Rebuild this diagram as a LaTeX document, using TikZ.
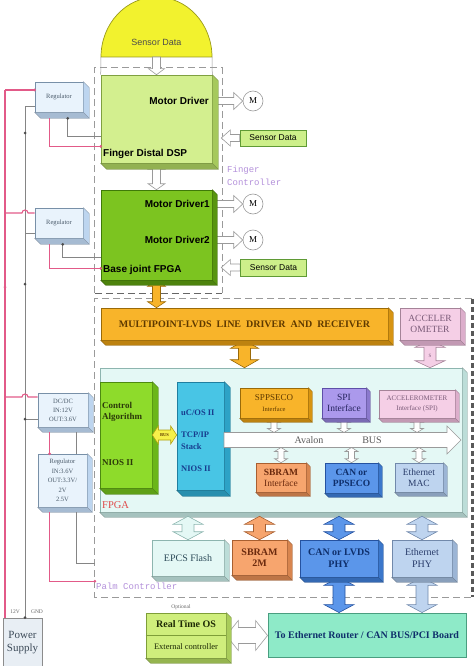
\documentclass[tikz,border=0pt]{standalone}
\usepackage{fontspec}
\setmainfont{Liberation Serif}
\setsansfont{Liberation Sans}
\setmonofont{Liberation Mono}
\usetikzlibrary{calc}
\pgfdeclarelayer{back}
\pgfdeclarelayer{bg}
\pgfsetlayers{back,bg,main}

\definecolor{cDsp}{HTML}{D3EF8F}\definecolor{cDspS}{HTML}{A6C95C}\definecolor{cDspB}{HTML}{7FA040}
\definecolor{cJnt}{HTML}{7CC420}\definecolor{cJntS}{HTML}{58950F}\definecolor{cJntB}{HTML}{3F7A08}
\definecolor{cOr}{HTML}{F8B42A}\definecolor{cOrS}{HTML}{D79412}\definecolor{cOrB}{HTML}{9A6A08}
\definecolor{cPk}{HTML}{F5CFE6}\definecolor{cPkS}{HTML}{DCAECB}\definecolor{cPkB}{HTML}{A58398}
\definecolor{cFp}{HTML}{E4F8F5}\definecolor{cFpS}{HTML}{BCDDD8}\definecolor{cFpB}{HTML}{8DB5AF}
\definecolor{cCt}{HTML}{8EDB2B}\definecolor{cCtS}{HTML}{6BB61A}\definecolor{cCtB}{HTML}{4D8A10}
\definecolor{cUc}{HTML}{48C5E5}\definecolor{cUcS}{HTML}{2DA2C6}\definecolor{cUcB}{HTML}{1F7FA0}
\definecolor{cSp}{HTML}{AB99EC}\definecolor{cSpS}{HTML}{8B79CD}\definecolor{cSpB}{HTML}{5E4FA8}
\definecolor{cSb}{HTML}{F7A56E}\definecolor{cSbS}{HTML}{D8854F}\definecolor{cSbB}{HTML}{A85F30}
\definecolor{cCn}{HTML}{5B96EA}\definecolor{cCnS}{HTML}{3B77CB}\definecolor{cCnB}{HTML}{2552A0}
\definecolor{cEt}{HTML}{BED4EF}\definecolor{cEtS}{HTML}{9CB5D5}\definecolor{cEtB}{HTML}{7189AB}
\definecolor{cRt}{HTML}{CFEE7C}\definecolor{cRtS}{HTML}{A9CC5A}\definecolor{cRtB}{HTML}{7E9E38}
\definecolor{cRo}{HTML}{8EEAC8}\definecolor{cRoB}{HTML}{4A9E80}
\definecolor{cRg}{HTML}{E9F3FC}\definecolor{cRgS}{HTML}{BDD5EF}\definecolor{cRgB}{HTML}{7890A8}
\definecolor{cPw}{HTML}{E8EEF4}
\definecolor{cYl}{HTML}{F2F22E}\definecolor{cYlB}{HTML}{9A9A1A}
\definecolor{cSd}{HTML}{CDEF8A}\definecolor{cSdB}{HTML}{5F9A35}
\definecolor{cPkLine}{HTML}{E25A88}\definecolor{cGrLine}{HTML}{858585}
\definecolor{cLilac}{HTML}{B390DA}\definecolor{cRed}{HTML}{E04A4A}
\definecolor{cHol}{HTML}{9A9A9A}\definecolor{cYa}{HTML}{F6F04A}\definecolor{cYaB}{HTML}{B0A010}
\definecolor{tCt}{HTML}{2C3A0A}\definecolor{tUc}{HTML}{173C8E}\definecolor{tOr}{HTML}{5F3A00}
\definecolor{tSp}{HTML}{26245E}\definecolor{tPk}{HTML}{7A5A78}\definecolor{tSb}{HTML}{6B2A0E}
\definecolor{tCn}{HTML}{0F2F6B}\definecolor{tEt}{HTML}{2A3D6B}\definecolor{tEp}{HTML}{2E4C5A}
\definecolor{tRt}{HTML}{1E2A05}\definecolor{tPw}{HTML}{3C4A58}\definecolor{tRg}{HTML}{4A5A6A}

\newcommand{\fsz}[2]{\fontsize{#1}{#2}\selectfont}
% 3D depth faces: node, depth, side colour
\newcommand{\threed}[3]{%
  \filldraw[fill=#3, draw=#3!70!black, line width=0.3pt] (#1.north east) -- ++(#2,#2) -- ($(#1.south east)+(#2,#2)$) -- (#1.south east) -- cycle;
  \filldraw[fill=#3!88!black, draw=#3!65!black, line width=0.3pt] (#1.south west) -- ++(#2,#2) -- ($(#1.south east)+(#2,#2)$) -- (#1.south east) -- cycle;}
% hollow arrows: from, to, half shaft, half head, head length, style
\newcommand{\ArrR}[6]{\filldraw[#6] let \p1=(#1), \p2=(#2) in (\x1,\y1+#3pt) -- (\x2-#5pt,\y1+#3pt) -- (\x2-#5pt,\y1+#4pt) -- (\x2,\y1) -- (\x2-#5pt,\y1-#4pt) -- (\x2-#5pt,\y1-#3pt) -- (\x1,\y1-#3pt) -- cycle;}
\newcommand{\ArrL}[6]{\filldraw[#6] let \p1=(#1), \p2=(#2) in (\x1,\y1+#3pt) -- (\x2+#5pt,\y1+#3pt) -- (\x2+#5pt,\y1+#4pt) -- (\x2,\y1) -- (\x2+#5pt,\y1-#4pt) -- (\x2+#5pt,\y1-#3pt) -- (\x1,\y1-#3pt) -- cycle;}
\newcommand{\ArrD}[6]{\filldraw[#6] let \p1=(#1), \p2=(#2) in (\x1-#3pt,\y1) -- (\x1-#3pt,\y2+#5pt) -- (\x1-#4pt,\y2+#5pt) -- (\x1,\y2) -- (\x1+#4pt,\y2+#5pt) -- (\x1+#3pt,\y2+#5pt) -- (\x1+#3pt,\y1) -- cycle;}
\newcommand{\ArrVV}[6]{\filldraw[#6] let \p1=(#1), \p2=(#2) in (\x1,\y1) -- (\x1+#4pt,\y1-#5pt) -- (\x1+#3pt,\y1-#5pt) -- (\x1+#3pt,\y2+#5pt) -- (\x1+#4pt,\y2+#5pt) -- (\x1,\y2) -- (\x1-#4pt,\y2+#5pt) -- (\x1-#3pt,\y2+#5pt) -- (\x1-#3pt,\y1-#5pt) -- (\x1-#4pt,\y1-#5pt) -- cycle;}
\newcommand{\ArrHH}[6]{\filldraw[#6] let \p1=(#1), \p2=(#2) in (\x1,\y1) -- (\x1+#5pt,\y1+#4pt) -- (\x1+#5pt,\y1+#3pt) -- (\x2-#5pt,\y1+#3pt) -- (\x2-#5pt,\y1+#4pt) -- (\x2,\y1) -- (\x2-#5pt,\y1-#4pt) -- (\x2-#5pt,\y1-#3pt) -- (\x1+#5pt,\y1-#3pt) -- (\x1+#5pt,\y1-#4pt) -- cycle;}

\begin{document}
\begin{tikzpicture}[x=1pt,y=-1pt,
  box/.style={inner sep=0pt, align=center, line width=0.6pt},
  hollowarr/.style={fill=white, draw=cHol, line width=0.6pt},
  orarr/.style={fill=cOr, draw=cOrB, line width=0.6pt},
  pkarr/.style={fill=cPk, draw=cPkB, line width=0.6pt},
  yarr/.style={fill=cYa, draw=cYaB, line width=0.6pt},
  fparr/.style={fill=cFp, draw=cFpB, line width=0.6pt},
  sbarr/.style={fill=cSb, draw=cSbB, line width=0.6pt},
  cnarr/.style={fill=cCn, draw=cCnB, line width=0.6pt},
  etarr/.style={fill=cEt, draw=cEtB, line width=0.6pt},
  dashline/.style={draw=cHol, line width=0.8pt, dash pattern=on 7pt off 4pt},
  dashdark/.style={draw=black!60, line width=1.2pt, dash pattern=on 7pt off 4pt},
  dashthick/.style={draw=black!65, line width=3pt, dash pattern=on 5pt off 3pt},
  sblab/.style={font=\sffamily\bfseries\fsz{10}{12}, inner sep=0pt},
  pinkl/.style={draw=cPkLine, line width=1.1pt},
  grayl/.style={draw=cGrLine, line width=1pt},
  mcirc/.style={circle, draw=cHol, fill=white, line width=0.6pt, minimum size=20pt, inner sep=0pt, font=\fsz{9}{10}},
  sdbox/.style={box, fill=cSd, draw=cSdB, line width=0.8pt, font=\sffamily\fsz{8.5}{10}},
  reg/.style={box, fill=cRg, draw=cRgB, text=tRg, font=\fsz{6.5}{9}},
  lil/.style={text=cLilac, font=\ttfamily\fsz{9}{13}, inner sep=0pt, align=left}
]
\useasboundingbox (0,0) rectangle (474,666);

% ---------- frames and FPGA body (back layer)
\begin{pgfonlayer}{back}
\node[inner sep=0pt, minimum width=127pt, minimum height=225pt] (fc) at (158.5,180.5) {};
\draw[dashline] (fc.south west) -- (fc.north west) -- (fc.north east) -- (fc.south east);
\draw[dashdark] (fc.south west) -- (fc.south east);
\node[inner sep=0pt, minimum width=377pt, minimum height=298pt] (palm) at (283.5,448) {};
\draw[dashline] (palm.north east) -- (palm.north west) -- (palm.south west) -- (palm.south east);
\draw[dashthick] (palm.north east) -- (palm.south east);
\node[box, fill=cFp, draw=cFpB, minimum width=362pt, minimum height=144pt] (fpga) at (281,440) {};
\threed{fpga}{5}{cFpS}
\end{pgfonlayer}

% ---------- dome
\coordinate (domeL) at (101,57);
\coordinate (domeR) at (212,57);
\coordinate (domeb) at (156.5,57);
\filldraw[fill=cYl, draw=cYlB, line width=0.7pt] (domeL) arc[start angle=180, end angle=360, x radius=55.5, y radius=60] -- cycle;
\node[font=\sffamily\fsz{9}{10}, text=black!70, inner sep=0pt] (dome) at (156.5,42) {Sensor Data};

% ---------- finger controller boxes
\node[box, fill=cDsp, draw=cDspB, minimum width=111pt, minimum height=88pt] (dsp) at (156.5,119) {};
\threed{dsp}{6}{cDspS}
\node[box, fill=cJnt, draw=cJntB, minimum width=111pt, minimum height=90pt] (jfpga) at (156.5,235) {};
\threed{jfpga}{5}{cJntS}
\draw[cHol, line width=0.5pt] (domeL) -- (dsp.north west);
\draw[cHol, line width=0.5pt] (domeR) -- (dsp.north east);

\node[sblab, anchor=east] (dspmd) at (209,101) {Motor Driver};
\node[sblab, anchor=west] (dspnm) at (103,154) {Finger Distal DSP};
\node[sblab, anchor=east] (jmd1) at (210,204) {Motor Driver1};
\node[sblab, anchor=east] (jmd2) at (210,240) {Motor Driver2};
\node[sblab, anchor=west] (jnm) at (103,270) {Base joint FPGA};

\node[mcirc] (m1) at (253,101) {M};
\node[mcirc] (m2) at (253,204) {M};
\node[mcirc] (m3) at (253,240) {M};
\node[sdbox, minimum width=66pt, minimum height=16pt] (sd1) at (273,138) {Sensor Data};
\node[sdbox, minimum width=66pt, minimum height=17pt] (sd2) at (273.5,267.5) {Sensor Data};
\node[lil, anchor=north west] (fclab) at (227,166) {Finger\\Controller};

% ---------- palm controller boxes
\node[box, fill=cOr, draw=cOrB, minimum width=287pt, minimum height=32pt, text=tOr, font=\bfseries\fsz{10}{12}] (lvds) at (244.5,324) {MULTIPOINT-LVDS\ \ LINE\ \ DRIVER\ \ AND\ \ RECEIVER};
\threed{lvds}{5}{cOrS}
\node[box, fill=cPk, draw=cPkB, minimum width=60pt, minimum height=32pt, text=tPk, font=\fsz{9.5}{10.5}] (accel) at (430,324) {ACCELER\\OMETER};
\threed{accel}{5}{cPkS}

\node[box, fill=cCt, draw=cCtB, minimum width=52pt, minimum height=106pt] (ctrl) at (126,435) {};
\threed{ctrl}{6}{cCtS}
\node[box, fill=cUc, draw=cUcB, minimum width=47pt, minimum height=108pt] (ucos) at (200.5,436) {};
\threed{ucos}{6}{cUcS}
\node[inner sep=0pt, align=left, anchor=west, text=tCt, font=\bfseries\fsz{9}{11}] (ctrlt) at (102,411.5) {Control\\Algorithm};
\node[inner sep=0pt, anchor=west, text=tCt, font=\bfseries\fsz{9}{11}] (ctrln) at (102,463) {NIOS II};
\node[inner sep=0pt, anchor=west, text=tUc, font=\bfseries\fsz{8.5}{11}] (ucost) at (181,413) {uC/OS II};
\node[inner sep=0pt, align=left, anchor=west, text=tUc, font=\bfseries\fsz{8.5}{12}] (tcpt) at (181,441) {TCP/IP\\Stack};
\node[inner sep=0pt, anchor=west, text=tUc, font=\bfseries\fsz{8.5}{11}] (ucosn) at (181,469) {NIOS II};

\node[box, fill=cOr, draw=cOrB, minimum width=68pt, minimum height=30pt, text=tOr, font=\fsz{9}{11}] (spp) at (274,403) {SPPSECO\\{\fsz{6.5}{8}Interface}};
\threed{spp}{4}{cOrS}
\node[box, fill=cSp, draw=cSpB, minimum width=44pt, minimum height=30pt, text=tSp, font=\fsz{9.5}{11}] (spi) at (344,403) {SPI\\Interface};
\threed{spi}{4}{cSpS}
\node[box, fill=cPk, draw=cPkB, minimum width=76pt, minimum height=28pt, text=tPk, font=\fsz{7}{10}] (accint) at (417,404) {ACCELEROMETER\\Interface (SPI)};
\threed{accint}{4}{cPkS}
\node[box, fill=cSb, draw=cSbB, minimum width=50pt, minimum height=29pt, text=tSb, font=\fsz{9.5}{11}] (sbint) at (281,477.5) {\textbf{SBRAM}\\Interface};
\threed{sbint}{4}{cSbS}
\node[box, fill=cCn, draw=cCnB, minimum width=53pt, minimum height=30pt, text=tCn, font=\bfseries\fsz{9.5}{11}] (canpp) at (351.5,478) {CAN or\\PPSECO};
\threed{canpp}{4}{cCnS}
\node[box, fill=cEt, draw=cEtB, minimum width=48pt, minimum height=29pt, text=tEt, font=\fsz{9.5}{11}] (ethmac) at (419,477.5) {Ethernet\\MAC};
\threed{ethmac}{4}{cEtS}

\coordinate (busstart) at (224,440);
\coordinate (busend) at (461,440);
\coordinate (bustop) at (300,432.5);
\coordinate (busbot) at (300,447.5);
\ArrR{busstart}{busend}{7.5}{14}{14}{hollowarr}
\node[inner sep=0pt, text=black!65, font=\fsz{10}{11}] (aval) at (309,440) {Avalon};
\node[inner sep=0pt, text=black!65, font=\fsz{10}{11}] (busl) at (372,440) {BUS};
\node[inner sep=0pt, anchor=west, text=cRed, font=\fsz{10.5}{11}] (fpgal) at (102,505) {FPGA};

\node[box, fill=cFp, draw=cFpB, minimum width=72pt, minimum height=36pt, text=tEp, font=\fsz{10}{11}] (epcs) at (188,558) {EPCS Flash};
\threed{epcs}{5}{cFpS}
\node[box, fill=cSb, draw=cSbB, minimum width=55pt, minimum height=35pt, text=tSb, font=\bfseries\fsz{10}{11.5}] (sbram) at (259.5,557.5) {SBRAM\\2M};
\threed{sbram}{5}{cSbS}
\node[box, fill=cCn, draw=cCnB, minimum width=78pt, minimum height=37pt, text=tCn, font=\bfseries\fsz{10}{12}] (canphy) at (339,558.5) {CAN or LVDS\\PHY};
\threed{canphy}{5}{cCnS}
\node[box, fill=cEt, draw=cEtB, minimum width=60pt, minimum height=37pt, text=tEt, font=\fsz{10}{12}] (ethphy) at (422,558.5) {Ethernet\\PHY};
\threed{ethphy}{5}{cEtS}
\node[lil, anchor=west] (palml) at (96,586) {Palm Controller};

% ---------- outside
\node[box, fill=cRo, draw=cRoB, line width=0.9pt, minimum width=198pt, minimum height=44pt, text=tCn, font=\bfseries\fsz{10}{11}] (router) at (367,635) {To Ethernet Router / CAN BUS/PCI Board};
\node[box, fill=cRt, draw=cRtB, minimum width=80pt, minimum height=45pt] (rtos) at (186,635.5) {};
\threed{rtos}{5}{cRtS}
\draw[cRtB, line width=0.6pt] (rtos.west) -- (rtos.east);
\node[inner sep=0pt, text=tRt, font=\bfseries\fsz{10}{11}] (rtos1) at (186,624) {Real Time OS};
\node[inner sep=0pt, text=tRt, font=\fsz{8.5}{10}] (rtos2) at (186,647) {External controller};
\node[inner sep=0pt, text=black!60, font=\fsz{5.5}{6}] (opt) at (181,607) {Optional};

% ---------- power side
\node[reg, minimum width=48pt, minimum height=30pt] (reg1) at (59,97) {Regulator};
\threed{reg1}{6}{cRgS}
\node[reg, minimum width=48pt, minimum height=30pt] (reg2) at (59,223) {Regulator};
\threed{reg2}{6}{cRgS}
\node[reg, minimum width=50pt, minimum height=34pt] (dcdc) at (63,410) {DC/DC\\IN:12V\\OUT:3.6V};
\threed{dcdc}{5}{cRgS}
\node[reg, minimum width=49pt, minimum height=53pt, font=\fsz{6.5}{9.5}] (reg3) at (62.5,480.5) {Regulator\\IN:3.6V\\OUT:3.3V/\\2V\\2.5V};
\threed{reg3}{5}{cRgS}
\node[box, fill=cPw, draw=black!45, minimum width=39pt, minimum height=50pt, text=tPw, font=\fsz{11}{13}] (pw) at (22.5,643) {Power\\Supply};
\node[inner sep=0pt, text=black!60, font=\fsz{5.5}{6}] (l12) at (15,612) {12V};
\node[inner sep=0pt, text=black!60, font=\fsz{5.5}{6}] (lgnd) at (37,612) {GND};

\coordinate (p12) at (5,90);
\coordinate (pgnd) at (25,107);
\coordinate (b2p) at (5,213);
\coordinate (b2g) at (25,233);
\coordinate (b3p) at (5,397);
\coordinate (b3g) at (25,419);
\draw[pinkl] (p12) -- (p12 |- pw.north);
\draw[grayl] (pgnd) -- (pgnd |- pw.north);
\draw[pinkl] (p12) -- (p12 -| reg1.west);
\draw[grayl] (pgnd) -- (pgnd -| reg1.west);
\draw[pinkl] (b2p) -- (22,213) arc[start angle=180, end angle=360, radius=3] -- (b2p -| reg2.west);
\draw[grayl] (b2g) -- (b2g -| reg2.west);
\draw[pinkl] (b3p) -- (22,397) arc[start angle=180, end angle=360, radius=3] -- (b3p -| dcdc.west);
\draw[grayl] (b3g) -- (b3g -| dcdc.west);
\draw[pinkl] ($(reg1.south west)+(15,6)$) |- ($(dsp.south west)+(0,-17)$);
\draw[grayl] ($(reg1.south west)+(33,6)$) |- ($(dsp.south west)+(0,-27)$);
\draw[pinkl] ($(reg2.south west)+(15,6)$) |- ($(jfpga.south west)+(0,-12)$);
\draw[grayl] ($(reg2.south west)+(28,6)$) |- ($(jfpga.south west)+(0,-23)$);
\draw[pinkl] ($(dcdc.south west)+(12,5)$) -- ($(reg3.north west)+(12,0)$);
\draw[grayl] ($(dcdc.south west)+(39,5)$) -- ($(reg3.north west)+(39,0)$);
\draw[pinkl] ($(reg3.south west)+(12,5)$) |- ($(palm.south west)+(0,-16)$);
\draw[grayl] ($(reg3.south west)+(39,5)$) |- ($(palm.south west)+(0,-34)$);
\fill[cPkLine] (p12 -| reg1.west) circle (1.5);
\fill[cPkLine] ($(dsp.south west)+(0,-17)$) circle (1.5);
\fill[cPkLine] ($(jfpga.south west)+(0,-12)$) circle (1.5);
\fill[cPkLine] ($(palm.south west)+(0,-16)$) circle (1.5);
\fill[cPkLine] ($(reg3.north west)+(12,0)$) circle (1.5);
\fill[cPkLine] (5,287) circle (1.5);
\fill[black!70] ($(reg1.south west)+(33,6)$) circle (1.5);
\fill[black!70] ($(reg2.south west)+(28,6)$) circle (1.5);
\fill[black!70] (25,133) circle (1.5);
\fill[black!70] (25,284) circle (1.5);
\fill[black!70] (b3g) circle (1.5);
\fill[black!70] (pgnd |- pw.north) circle (1.5);

% ---------- arrows
\ArrD{domeb}{dsp.north}{4}{8}{6}{hollowarr}
\ArrHH{ctrl.east}{ucos.west}{5}{9}{6}{yarr}
\node[inner sep=0pt, text=tOr, font=\bfseries\fsz{4.5}{5}] (hbus) at ($(ctrl.east)!0.5!(ucos.west)$) {BUS};
\begin{pgfonlayer}{bg}
\ArrVV{dsp.south}{jfpga.north}{4}{8.5}{6}{hollowarr}
\ArrVV{jfpga.south}{lvds.north}{4}{9}{6}{orarr}
\ArrVV{lvds.south}{lvds.south |- fpga.north}{6}{14}{8}{orarr}
\ArrVV{accel.south}{accel.south |- fpga.north}{6}{15}{7}{pkarr}
\ArrR{dsp.east |- m1}{m1.west}{3.5}{8.5}{9}{hollowarr}
\ArrR{jfpga.east |- m2}{m2.west}{3.5}{8.5}{9}{hollowarr}
\ArrR{jfpga.east |- m3}{m3.west}{3.5}{8.5}{9}{hollowarr}
\ArrL{sd1.west}{$(sd1.west -| dsp.east)+(9,0)$}{3.5}{8}{9}{hollowarr}
\ArrL{sd2.west}{$(sd2.west -| jfpga.east)+(9,0)$}{3.5}{8}{9}{hollowarr}
\ArrVV{spp.south}{spp.south |- bustop}{3}{6.5}{4}{hollowarr}
\ArrVV{spi.south}{spi.south |- bustop}{3}{6.5}{4}{hollowarr}
\ArrVV{accint.south}{accint.south |- bustop}{3}{6.5}{4}{hollowarr}
\ArrVV{sbint.north |- busbot}{sbint.north}{3}{6.5}{4}{hollowarr}
\ArrVV{canpp.north |- busbot}{canpp.north}{3}{6.5}{4}{hollowarr}
\ArrVV{ethmac.north |- busbot}{ethmac.north}{3}{6.5}{4}{hollowarr}
\ArrVV{$(epcs.north |- fpga.south)+(0,4)$}{epcs.north}{6}{15}{8}{fparr}
\ArrVV{$(sbram.north |- fpga.south)+(0,4)$}{sbram.north}{6}{15}{8}{sbarr}
\ArrVV{$(canphy.north |- fpga.south)+(0,4)$}{canphy.north}{6}{15}{8}{cnarr}
\ArrVV{$(ethphy.north |- fpga.south)+(0,4)$}{ethphy.north}{6}{15}{8}{etarr}
\ArrVV{canphy.south}{canphy.south |- router.north}{6}{15}{8}{cnarr}
\ArrVV{ethphy.south}{ethphy.south |- router.north}{6}{15}{8}{etarr}
\ArrHH{rtos.east}{router.west |- rtos.east}{8}{15}{12}{hollowarr}
\end{pgfonlayer}
\node[inner sep=0pt, text=tPk, font=\fsz{5}{6}] (sl) at (430,356) {S};
\end{tikzpicture}
\end{document}
